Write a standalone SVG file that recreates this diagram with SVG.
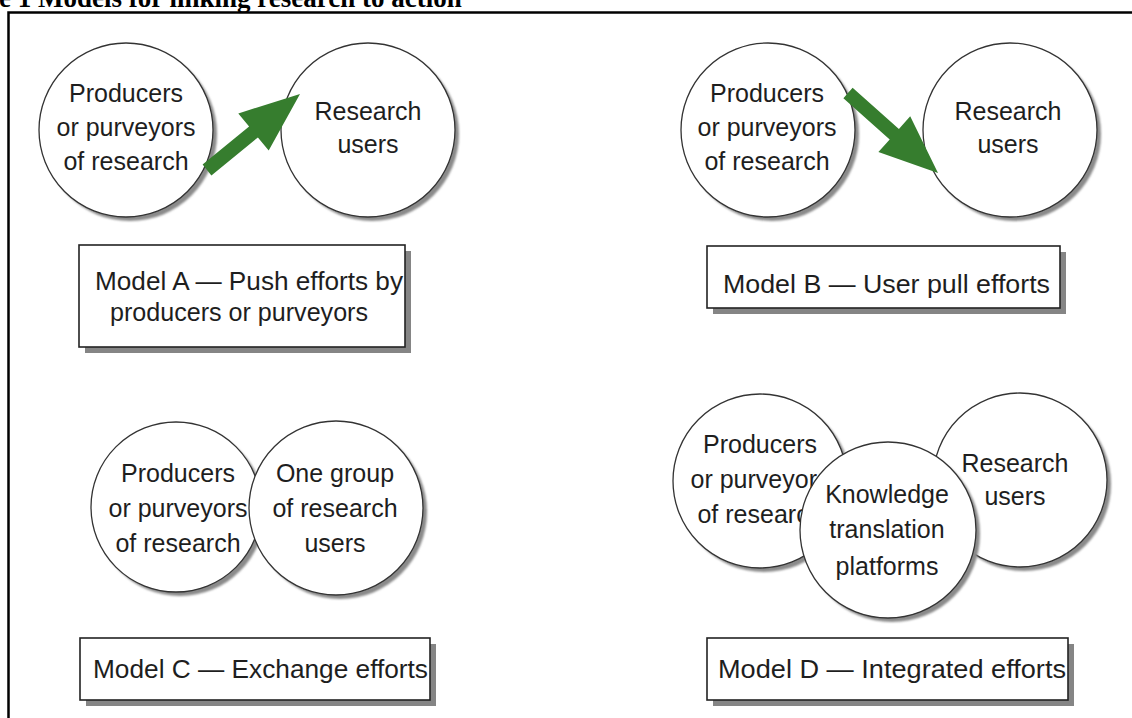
<svg xmlns="http://www.w3.org/2000/svg" width="1132" height="718" viewBox="0 0 1132 718">
<style>
.bg{fill:#ffffff}
.frame{stroke:#000;stroke-width:2.5;fill:none}
.title{font-family:"Liberation Serif","Times New Roman",serif;font-weight:bold;font-size:27px;fill:#000}
.circ{fill:#fff;stroke:#333;stroke-width:1.3}
.csh{fill:#8a8a8a;filter:url(#blur)}
.ct{font-family:"Liberation Sans",Arial,sans-serif;font-size:25px;fill:#1e1e1e;text-anchor:middle}
.box{fill:#fff;stroke:#222;stroke-width:1.6}
.bsh{fill:#858585}
.lt{font-family:"Liberation Sans",Arial,sans-serif;font-size:25.5px;fill:#1e1e1e}
.arrow{fill:#367d2e}
</style>
<defs>
<filter id="blur" x="-10%" y="-10%" width="120%" height="120%"><feGaussianBlur stdDeviation="1.2"/></filter>
</defs>
<rect class="bg" x="0" y="0" width="1132" height="718"/>
<g id="title">
<text class="title" x="-1" y="7">e 1 Models for linking research to action</text>
</g>
<g id="frame">
<path class="frame" d="M8.5,718 V12.5 H1132"/>
</g>

<!-- Model A -->
<g id="a-producers">
<circle class="csh" cx="130" cy="134" r="87"/>
<circle class="circ" cx="126" cy="130" r="87"/>
<text class="ct" x="126" y="102">Producers</text>
<text class="ct" x="126" y="136">or purveyors</text>
<text class="ct" x="126" y="170">of research</text>
</g>
<g id="a-users">
<circle class="csh" cx="372" cy="134" r="87"/>
<circle class="circ" cx="368" cy="130" r="87"/>
<text class="ct" x="368" y="120">Research</text>
<text class="ct" x="368" y="153">users</text>
</g>
<g id="a-label">
<rect class="bsh" x="85" y="251" width="326" height="102"/>
<rect class="box" x="79" y="245" width="326" height="102"/>
<text class="lt" x="95" y="290" textLength="308" lengthAdjust="spacingAndGlyphs">Model A — Push efforts by</text>
<text class="lt" x="110" y="321" textLength="258" lengthAdjust="spacingAndGlyphs">producers or purveyors</text>
</g>

<!-- Model B -->
<g id="b-producers">
<circle class="csh" cx="772" cy="134" r="87"/>
<circle class="circ" cx="768" cy="130" r="87"/>
<text class="ct" x="767" y="102">Producers</text>
<text class="ct" x="767" y="136">or purveyors</text>
<text class="ct" x="767" y="170">of research</text>
</g>
<g id="b-users">
<circle class="csh" cx="1014" cy="134" r="87"/>
<circle class="circ" cx="1010" cy="130" r="87"/>
<text class="ct" x="1008" y="120">Research</text>
<text class="ct" x="1008" y="153">users</text>
</g>
<g id="b-label">
<rect class="bsh" x="713" y="252" width="353" height="62"/>
<rect class="box" x="707" y="246" width="353" height="62"/>
<text class="lt" x="723" y="293" textLength="327" lengthAdjust="spacingAndGlyphs">Model B — User pull efforts</text>
</g>

<!-- Model C -->
<g id="c-producers">
<circle class="csh" cx="180" cy="511" r="85"/>
<circle class="circ" cx="176" cy="507" r="85"/>
<text class="ct" x="178" y="482">Producers</text>
<text class="ct" x="178" y="517">or purveyors</text>
<text class="ct" x="178" y="552">of research</text>
</g>
<g id="c-users">
<circle class="csh" cx="340" cy="512" r="87"/>
<circle class="circ" cx="336" cy="508" r="87"/>
<text class="ct" x="335" y="482">One group</text>
<text class="ct" x="335" y="517">of research</text>
<text class="ct" x="335" y="552">users</text>
</g>
<g id="c-label">
<rect class="bsh" x="86" y="644" width="350" height="62"/>
<rect class="box" x="80" y="638" width="350" height="62"/>
<text class="lt" x="93" y="678" textLength="335" lengthAdjust="spacingAndGlyphs">Model C — Exchange efforts</text>
</g>

<!-- Model D -->
<g id="d-producers">
<circle class="csh" cx="764" cy="485" r="87"/>
<circle class="circ" cx="760" cy="481" r="87"/>
<text class="ct" x="760" y="453">Producers</text>
<text class="ct" x="760" y="488">or purveyors</text>
<text class="ct" x="760" y="523">of research</text>
</g>
<g id="d-users">
<circle class="csh" cx="1024" cy="484" r="87"/>
<circle class="circ" cx="1020" cy="480" r="87"/>
<text class="ct" x="1015" y="472">Research</text>
<text class="ct" x="1015" y="505">users</text>
</g>
<g id="d-platforms">
<circle class="csh" cx="892" cy="534" r="88"/>
<circle class="circ" cx="888" cy="530" r="88"/>
<text class="ct" x="887" y="503">Knowledge</text>
<text class="ct" x="887" y="538">translation</text>
<text class="ct" x="887" y="575">platforms</text>
</g>
<g id="d-label">
<rect class="bsh" x="713" y="644" width="361" height="62"/>
<rect class="box" x="707" y="638" width="361" height="62"/>
<text class="lt" x="718" y="678" textLength="348" lengthAdjust="spacingAndGlyphs">Model D — Integrated efforts</text>
</g>

<g id="connectors">
<polygon class="arrow" points="202.6,164.6 249.1,126.6 238.3,113.4 300,94 268.7,150.6 257.9,137.4 211.4,175.4"/>
<polygon class="arrow" points="852.6,87.8 898.9,129.0 910.2,116.3 938,173 878.4,152.1 889.7,139.4 843.4,98.2"/>
</g>
</svg>
